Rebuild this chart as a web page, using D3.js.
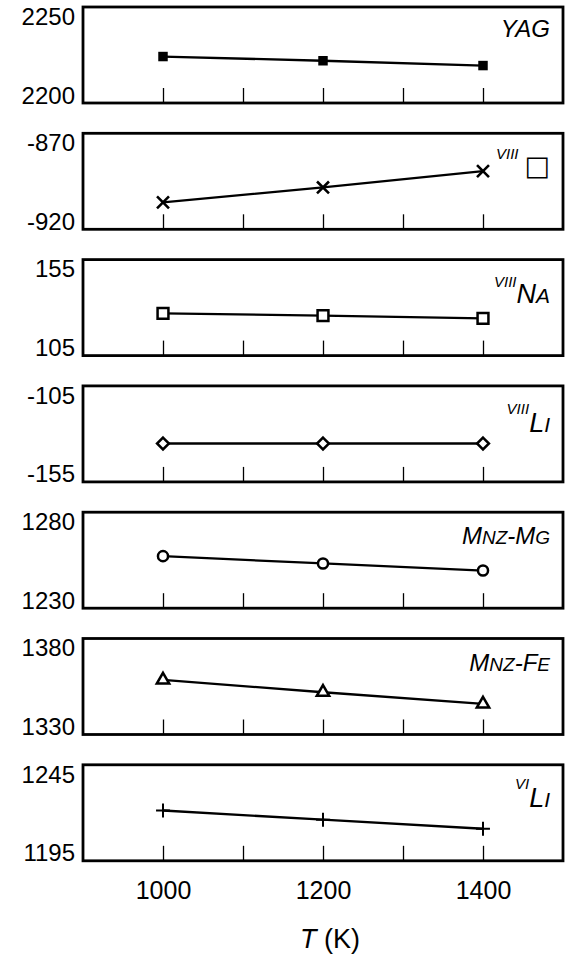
<!DOCTYPE html>
<html>
<head>
<meta charset="utf-8">
<script src="https://cdn.jsdelivr.net/npm/d3@7"></script>
<style>
  body { margin: 0; background: #fff; }
  svg { display: block; font-family: "Liberation Sans", Arial, sans-serif; }
</style>
</head>
<body>
<div id="vis-holder"></div>
<script>
// Data
const temps = [1000, 1200, 1400];
const yag     = [2224.2, 2222.0, 2219.5];
const viiiBox = [-906.0, -898.2, -889.7];
const viiiNa  = [127.0, 125.8, 124.4];
const viiiLi  = [-135.0, -135.0, -135.0];
const mnzMg   = [1257.1, 1253.3, 1249.6];
const mnzFe   = [1358.4, 1352.0, 1345.9];
const viLi    = [1221.2, 1216.4, 1211.7];

const yRanges = [[2200, 2250], [-920, -870], [105, 155], [-155, -105], [1230, 1280], [1330, 1380], [1195, 1245]];
const xTicks = [1000, 1100, 1200, 1300, 1400];
const xLabels = [1000, 1200, 1400];

// Set dimensions
const width = 566;
const height = 964;
const left = 83, right = 563;
const top0 = 7, pitch = 126.3, panelH = 96;

const svg = d3.select("#vis-holder")
  .append("svg")
  .attr("width", width)
  .attr("height", height);

const x = d3.scaleLinear().domain([900, 1500]).range([left, right]);

// panel table: values, marker, label pieces [text, size, dy, dx, font]
const panels = [
  { values: yag, symbol: d3.symbolSquare, size: 90, fill: "#000", sw: 0, ly: 30,
    label: [["YAG", 24, 0]] },
  { values: viiiBox, symbol: d3.symbolTimes, size: 95, fill: "none", sw: 2.6, ly: 26,
    label: [["VIII", 15, 0], ["\u25A1", 27, 16, 6, "DejaVu Sans"]] },
  { values: viiiNa, symbol: d3.symbolSquare2, size: 150, fill: "none", sw: 2.5, ly: 27,
    label: [["VIII", 15, 0], ["N", 27, 16], ["A", 21, 0]] },
  { values: viiiLi, symbol: d3.symbolDiamond2, size: 90, fill: "none", sw: 2.5, ly: 28,
    label: [["VIII", 15, 0], ["L", 27, 18], ["I", 21, 0]] },
  { values: mnzMg, symbol: d3.symbolCircle, size: 80, fill: "none", sw: 2.5, ly: 32,
    label: [["M", 24, 0], ["NZ", 19, 0], ["-M", 24, 0], ["G", 19, 0]] },
  { values: mnzFe, symbol: d3.symbolTriangle2, size: 110, fill: "none", sw: 2.5, ly: 32,
    label: [["M", 24, 0], ["NZ", 19, 0], ["-F", 24, 0], ["E", 19, 0]] },
  { values: viLi, symbol: d3.symbolPlus, size: 65, fill: "none", sw: 2, ly: 24,
    label: [["VI", 15, 0], ["L", 27, 18], ["I", 21, 0]] }
];

panels.forEach((p, i) => {
  const t = top0 + i * pitch;
  const b = t + panelH;
  const y = d3.scaleLinear().domain(yRanges[i]).range([b, t]);
  const g = svg.append("g");

  // x ticks pointing up from the bottom edge
  g.append("g")
    .attr("transform", `translate(0,${b})`)
    .call(d3.axisBottom(x).tickValues(xTicks).tickSize(-15).tickFormat(""))
    .call((a) => a.select(".domain").remove())
    .call((a) => a.selectAll("line").attr("stroke", "#000").attr("stroke-width", 1.3));

  // y labels only at the two ends
  g.append("g")
    .attr("transform", `translate(${left},0)`)
    .call(d3.axisLeft(y).tickValues(yRanges[i]).tickSize(0).tickPadding(8).tickFormat((d) => String(d)))
    .call((a) => a.select(".domain").remove())
    .call((a) => a.selectAll("text")
      .attr("font-size", 24)
      .attr("font-family", "Liberation Sans, Arial, sans-serif")
      .attr("fill", "#000")
      .attr("dy", (d) => d === yRanges[i][1] ? "0.72em" : "0em"));

  // frame
  g.append("rect")
    .attr("x", left).attr("y", t)
    .attr("width", right - left).attr("height", panelH)
    .attr("fill", "none").attr("stroke", "#000").attr("stroke-width", 2.8);

  // line
  const line = d3.line().x((d, k) => x(temps[k])).y((d) => y(d));
  g.append("path")
    .datum(p.values)
    .attr("d", line)
    .attr("fill", "none").attr("stroke", "#000").attr("stroke-width", 2.3);

  // markers
  g.selectAll(".mark")
    .data(p.values)
    .enter()
    .append("path")
      .attr("class", "mark")
      .attr("transform", (d, k) => `translate(${x(temps[k])},${y(d)})`)
      .attr("d", d3.symbol().type(p.symbol).size(p.size))
      .attr("fill", p.fill === "none" ? "#fff" : p.fill)
      .attr("stroke", "#000")
      .attr("stroke-width", p.sw);

  // series label, right aligned in the corner
  const txt = g.append("text")
    .attr("x", 550).attr("y", t + p.ly)
    .attr("text-anchor", "end")
    .attr("fill", "#000");
  p.label.forEach((s) => {
    txt.append("tspan")
      .attr("font-size", s[1])
      .attr("dy", s[2])
      .attr("dx", s[3] || null)
      .attr("font-style", s[4] ? "normal" : "italic")
      .attr("font-family", s[4] || null)
      .text(s[0]);
  });
});

// bottom axis labels
const lastB = top0 + 6 * pitch + panelH;
svg.append("g")
  .attr("transform", `translate(0,${lastB})`)
  .call(d3.axisBottom(x).tickValues(xLabels).tickSize(0).tickPadding(20).tickFormat(d3.format("d")))
  .call((a) => a.select(".domain").remove())
  .call((a) => a.selectAll("text")
    .attr("font-size", 25)
    .attr("font-family", "Liberation Sans, Arial, sans-serif")
    .attr("fill", "#000"));

// axis title
const title = svg.append("text")
  .attr("x", 330).attr("y", 948)
  .attr("text-anchor", "middle")
  .attr("font-size", 27)
  .attr("fill", "#000");
title.append("tspan").attr("font-style", "italic").text("T");
title.append("tspan").text(" (K)");
</script>
</body>
</html>
